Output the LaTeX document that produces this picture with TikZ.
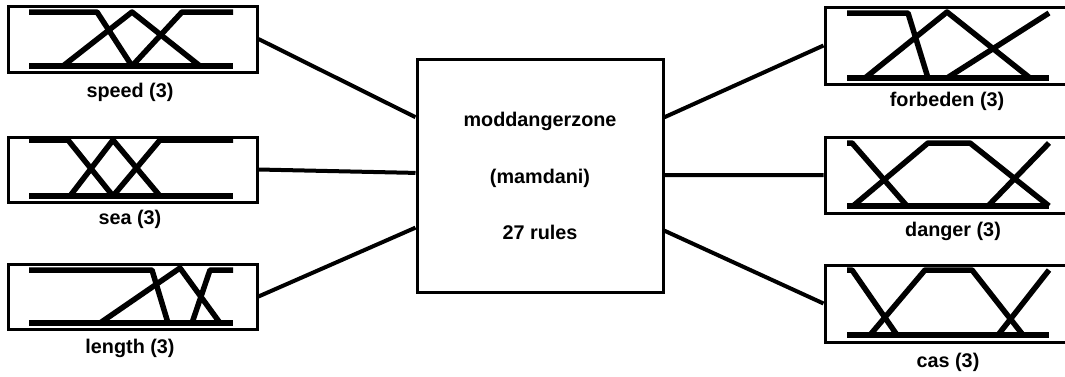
\documentclass[tikz,border=0pt]{standalone}
\usepackage{fontspec}
\setmainfont{Liberation Sans}
\usetikzlibrary{calc}
\begin{document}
\begin{tikzpicture}[x=1pt,y=-1pt,
 mfbox/.style={draw, line width=3pt, minimum width=249pt, inner sep=0pt},
 outbox/.style={draw, line width=3pt, minimum width=260pt, inner sep=0pt},
 core/.style={draw, line width=3pt, minimum width=246pt, minimum height=233pt, inner sep=0pt},
 lbl/.style={font=\bfseries\fontsize{19.8}{24}\selectfont, anchor=base, inner sep=0pt},
 mf/.style={line width=5.5pt, line join=round},
 wire/.style={line width=4pt}]
\useasboundingbox[fill=white] (0,0) rectangle (1065,376);

% input boxes
\node[mfbox, minimum height=66pt] (speed) at (132.5,39) {};
\node[mfbox, minimum height=65pt] (sea) at (132.5,169.5) {};
\node[mfbox, minimum height=65pt] (length) at (132.5,296.5) {};
% output boxes
\node[outbox, minimum height=77pt] (forbeden) at (955,45.5) {};
\node[outbox, minimum height=76pt] (danger) at (955,175) {};
\node[outbox, minimum height=77pt] (cas) at (955,303.5) {};
% core
\node[core] (core) at (540,175.5) {};
\node[lbl] (t1) at (540,126) {moddangerzone};
\node[lbl] (t2) at (540,183) {(mamdani)};
\node[lbl] (t3) at (540,239) {27 rules};

% labels
\node[lbl] (lspeed) at (130,97) {speed (3)};
\node[lbl] (lsea) at (130,224) {sea (3)};
\node[lbl] (llength) at (130,353) {length (3)};
\node[lbl] (lforbeden) at (947,106) {forbeden (3)};
\node[lbl] (ldanger) at (953,236) {danger (3)};
\node[lbl] (lcas) at (948,367) {cas (3)};

% connectors
\draw[wire] (speed.east) -- ($(core.north west)!0.253!(core.south west)$);
\draw[wire] (sea.east) -- ($(core.north west)!0.489!(core.south west)$);
\draw[wire] (length.east) -- ($(core.north west)!0.721!(core.south west)$);
\draw[wire] ($(core.north east)!0.253!(core.south east)$) -- (forbeden.west);
\draw[wire] ($(core.north east)!0.498!(core.south east)$) -- (danger.west);
\draw[wire] ($(core.north east)!0.734!(core.south east)$) -- (cas.west);

% speed MFs
\draw[mf] (29,66) -- (233,66);
\draw[mf] (29,12) -- (97,12) -- (132,66);
\draw[mf] (63,66) -- (132,12) -- (200,66);
\draw[mf] (132,66) -- (182,12) -- (233,12);
% sea MFs
\draw[mf] (29,196) -- (233,196);
\draw[mf] (29,140) -- (68,140) -- (113,196);
\draw[mf] (70,196) -- (113,140) -- (160,196);
\draw[mf] (113,196) -- (160,140) -- (233,140);
% length MFs
\draw[mf] (29,323) -- (233,323);
\draw[mf] (29,270) -- (152,270) -- (168,323);
\draw[mf] (100,323) -- (180,268) -- (220,323);
\draw[mf] (192,323) -- (210,270) -- (233,270);
% forbeden MFs
\draw[mf] (847,78) -- (1049,78);
\draw[mf] (847,13) -- (908,13) -- (928,78);
\draw[mf] (865,78) -- (947,12) -- (1030,78);
\draw[mf] (947,78) -- (1049,13);
% danger MFs
\draw[mf] (847,206) -- (1049,206);
\draw[mf] (847,143) -- (852,143) -- (907,206);
\draw[mf] (853,206) -- (928,143) -- (970,143) -- (1049,206);
\draw[mf] (988,206) -- (1049,143);
% cas MFs
\draw[mf] (847,335) -- (1049,335);
\draw[mf] (847,270) -- (852,270) -- (897,335);
\draw[mf] (870,335) -- (925,270) -- (972,270) -- (1023,335);
\draw[mf] (998,335) -- (1049,270);
\end{tikzpicture}
\end{document}
